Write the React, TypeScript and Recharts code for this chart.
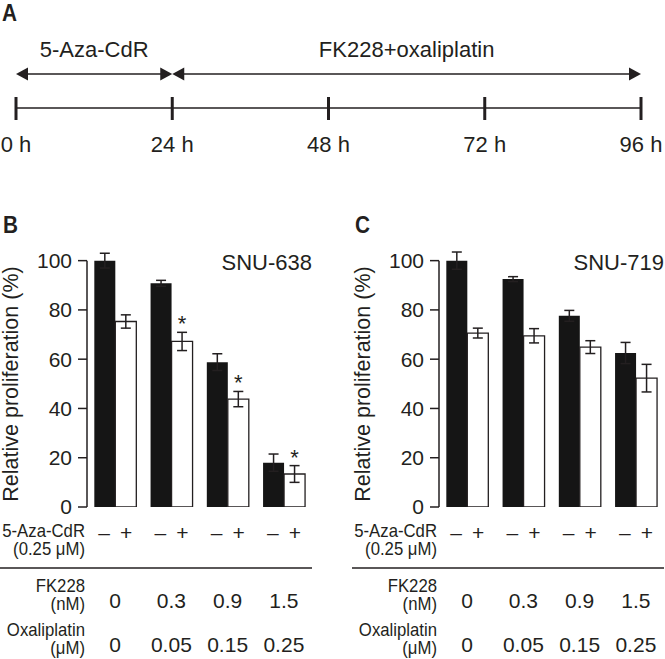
import React from "react";
import {
  Bar,
  BarChart,
  ErrorBar,
  LabelList,
  LineChart,
  ReferenceLine,
  XAxis,
  YAxis,
} from "recharts";

const FONT = '"Liberation Sans", Arial, Helvetica, sans-serif';
const INK = "#231f20";

// panel A: treatment schedule
const timeHours = [0, 24, 48, 72, 96];
const phaseLabels = ["5-Aza-CdR", "FK228+oxaliplatin"];
const phaseStart = [0, 24];
const phaseEnd = [24, 96];

// panels B and C: doses under each pair of bars
const fk228Doses = ["0", "0.3", "0.9", "1.5"];
const oxaliplatinDoses = ["0", "0.05", "0.15", "0.25"];
const yTicks = [0, 20, 40, 60, 80, 100];
const categoryEdges = [0, 1, 2, 3, 4];
const rowLabels = ["5-Aza-CdR", "(0.25 μM)", "FK228", "(nM)", "Oxaliplatin", "(μM)"];

// SNU-638
const snu638Minus = [100, 90.8, 58.8, 18];
const snu638MinusErr = [3, 1.2, 3.4, 3.5];
const snu638Plus = [75.3, 67.2, 43.8, 13.4];
const snu638PlusErr = [2.7, 3.7, 3.1, 3.4];
const snu638Star = [false, true, true, true];

// SNU-719
const snu719Minus = [100, 92.5, 77.6, 62.5];
const snu719MinusErr = [3.5, 1, 2.2, 4.3];
const snu719Plus = [70.6, 69.5, 64.9, 52.3];
const snu719PlusErr = [2, 2.9, 2.6, 5.6];
const snu719Star = [false, false, false, false];

// baselines of the row label lines, relative to the panel box
const rowBaselines = [337, 355, 392, 410, 436, 454];

const PanelLetter = ({ x, y, children }: any) => (
  <text
    x={x}
    y={y}
    fontFamily={FONT}
    fontSize={24}
    fontWeight="bold"
    fill={INK}
    textLength={15}
    lengthAdjust="spacingAndGlyphs"
  >
    {children}
  </text>
);

const TimeTick = (props: any) => {
  const { x, y, payload } = props;
  return (
    <g>
      <line x1={x} x2={x} y1={y - 11} y2={y + 12} stroke={INK} strokeWidth={3} />
      <text x={x} y={y + 44} textAnchor="middle" fontSize={22} fontFamily={FONT} fill={INK}>
        {`${payload.value} h`}
      </text>
    </g>
  );
};

const PhaseArrow = (props: any) => {
  const { x1, y1, x2, text } = props;
  const L = 12;
  const H = 6.5;
  return (
    <g>
      <line x1={x1 + L - 1} y1={y1} x2={x2 - L + 1} y2={y1} stroke={INK} strokeWidth={1.6} />
      <polygon points={`${x1},${y1} ${x1 + L},${y1 - H} ${x1 + L},${y1 + H}`} fill={INK} />
      <polygon points={`${x2},${y1} ${x2 - L},${y1 - H} ${x2 - L},${y1 + H}`} fill={INK} />
      <text x={(x1 + x2) / 2} y={y1 - 17} textAnchor="middle" fontSize={22} fontFamily={FONT} fill={INK}>
        {text}
      </text>
    </g>
  );
};

const Schedule = () => {
  const data = timeHours.map((h) => ({ h, lvl: 0 }));
  return (
    <div style={{ position: "absolute", left: 0, top: 0, width: 665, height: 170 }}>
      <LineChart width={665} height={170} data={data} margin={{ top: 40, right: 24, left: 16, bottom: 0 }}>
        <XAxis
          dataKey="h"
          type="number"
          domain={[0, 96]}
          ticks={timeHours}
          interval={0}
          tickLine={false}
          tickSize={0}
          tickMargin={0}
          height={62}
          axisLine={{ stroke: INK, strokeWidth: 1.5 }}
          tick={<TimeTick />}
        />
        <YAxis hide domain={[0, 2]} allowDataOverflow />
        {phaseLabels.map((label, i) => (
          <ReferenceLine
            key={label}
            segment={[
              { x: phaseStart[i], y: 1 },
              { x: phaseEnd[i], y: 1 },
            ]}
            shape={(p: any) => <PhaseArrow {...p} text={label} />}
          />
        ))}
      </LineChart>
      <svg
        width={665}
        height={170}
        style={{ position: "absolute", left: 0, top: 0, pointerEvents: "none" }}
      >
        <PanelLetter x={2} y={21}>A</PanelLetter>
      </svg>
    </div>
  );
};

const DoseTick = (props: any) => {
  const { x, y, payload, index } = props;
  return (
    <g fontFamily={FONT} fontSize={21} fill={INK}>
      <text x={x - 11} y={y + 33} textAnchor="middle" fill={INK}>–</text>
      <text x={x + 11} y={y + 33} textAnchor="middle" fill={INK}>+</text>
      <text x={x} y={y + 101} textAnchor="middle" fill={INK}>{payload.value}</text>
      <text x={x} y={y + 145} textAnchor="middle" fill={INK}>{oxaliplatinDoses[index]}</text>
    </g>
  );
};

interface PanelProps {
  left: number;
  letter: string;
  cellLine: string;
  minus: number[];
  minusErr: number[];
  plus: number[];
  plusErr: number[];
  star: boolean[];
}

const ProliferationPanel = ({ left, letter, cellLine, minus, minusErr, plus, plusErr, star }: PanelProps) => {
  const data = fk228Doses.map((fk, i) => ({
    fk,
    minus: minus[i],
    minusErr: minusErr[i],
    plus: plus[i],
    plusErr: plusErr[i],
    star: star[i] ? "*" : "",
  }));

  const renderStar = (p: any) => {
    const { x, y, width, height, index, value } = p;
    if (!value) return null;
    const row = data[index];
    const errTop = y - (row.plusErr * height) / row.plus;
    return (
      <text x={x + width / 2} y={errTop - 1} textAnchor="middle" fontSize={22} fontFamily={FONT} fill={INK}>
        {value}
      </text>
    );
  };

  return (
    <div style={{ position: "absolute", left, top: 200, width: 313, height: 459 }}>
      <BarChart
        width={313}
        height={459}
        data={data}
        barCategoryGap="13%"
        barGap={0}
        margin={{ top: 36, right: 1, left: 0, bottom: 0 }}
      >
        <XAxis
          xAxisId="edges"
          type="number"
          domain={[0, 4]}
          ticks={categoryEdges}
          interval={0}
          allowDataOverflow
          tick={false}
          tickSize={9}
          height={0}
          axisLine={{ stroke: INK, strokeWidth: 1.5 }}
          tickLine={{ stroke: INK, strokeWidth: 1.5 }}
        />
        <XAxis
          xAxisId="cat"
          dataKey="fk"
          interval={0}
          axisLine={false}
          tickLine={false}
          tickSize={0}
          tickMargin={0}
          height={152}
          tick={<DoseTick />}
        />
        <YAxis
          domain={[0, 110]}
          ticks={yTicks}
          interval={0}
          allowDataOverflow
          axisLine={false}
          width={87}
          tickSize={9}
          tickMargin={6}
          tickLine={{ stroke: INK, strokeWidth: 1.5 }}
          tick={{ fill: INK, fontSize: 21, fontFamily: FONT }}
        />
        <ReferenceLine
          xAxisId="edges"
          segment={[
            { x: 0, y: 0 },
            { x: 0, y: 100 },
          ]}
          stroke={INK}
          strokeWidth={1.5}
        />
        <Bar xAxisId="cat" dataKey="minus" fill="#151515" isAnimationActive={false}>
          <ErrorBar dataKey="minusErr" width={5} stroke={INK} strokeWidth={1.5} direction="y" />
        </Bar>
        <Bar xAxisId="cat" dataKey="plus" fill="#ffffff" stroke={INK} strokeWidth={1.3} isAnimationActive={false}>
          <ErrorBar dataKey="plusErr" width={5} stroke={INK} strokeWidth={1.5} direction="y" />
          <LabelList dataKey="star" content={renderStar} />
        </Bar>
      </BarChart>
      <svg
        width={313}
        height={459}
        style={{ position: "absolute", left: 0, top: 0, pointerEvents: "none" }}
      >
        <PanelLetter x={3} y={33}>{letter}</PanelLetter>
        <text x={312} y={70} textAnchor="end" fontFamily={FONT} fontSize={22} fill={INK}>
          {cellLine}
        </text>
        <text
          x={11}
          y={184}
          transform="rotate(-90 11 184)"
          textAnchor="middle"
          dominantBaseline="central"
          fontFamily={FONT}
          fontSize={21.5}
          fill={INK}
        >
          Relative proliferation (%)
        </text>
        <g transform="translate(85,0) scale(0.93,1)">
          {rowLabels.map((label, i) => (
            <text
              key={label}
              x={0}
              y={rowBaselines[i]}
              textAnchor="end"
              fontFamily={FONT}
              fontSize={18}
              fill={INK}
            >
              {label}
            </text>
          ))}
        </g>
        <line x1={0} x2={312} y1={368} y2={368} stroke={INK} strokeWidth={1.5} />
      </svg>
    </div>
  );
};

export default function App() {
  return (
    <div
      style={{
        position: "absolute",
        left: 0,
        top: 0,
        width: 665,
        height: 659,
        background: "#ffffff",
        fontFamily: FONT,
      }}
    >
      <Schedule />
      <ProliferationPanel
        left={0}
        letter="B"
        cellLine="SNU-638"
        minus={snu638Minus}
        minusErr={snu638MinusErr}
        plus={snu638Plus}
        plusErr={snu638PlusErr}
        star={snu638Star}
      />
      <ProliferationPanel
        left={352}
        letter="C"
        cellLine="SNU-719"
        minus={snu719Minus}
        minusErr={snu719MinusErr}
        plus={snu719Plus}
        plusErr={snu719PlusErr}
        star={snu719Star}
      />
    </div>
  );
}
